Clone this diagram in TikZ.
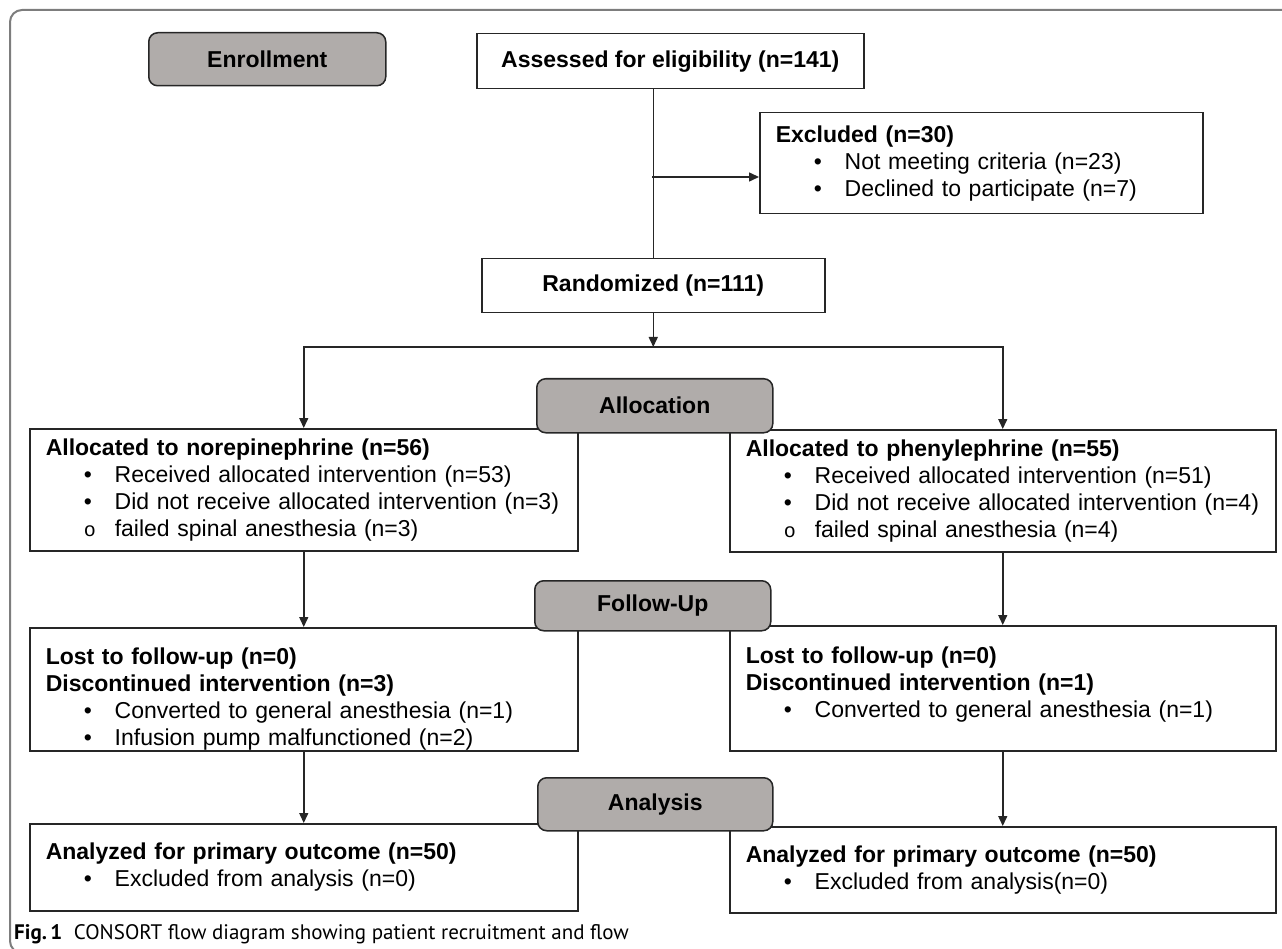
\documentclass[tikz,border=0pt]{standalone}
\usepackage{fontspec}
\setmainfont{Liberation Sans}
\newfontfamily\capfont{PT Sans}
\newfontfamily\ringfont{Liberation Mono}
\usepackage{xcolor}
\usepackage{tikz}
\usetikzlibrary{arrows.meta, positioning, calc}

\definecolor{hdrgray}{RGB}{176,172,170}
\definecolor{framegray}{RGB}{125,125,125}

\newcommand{\dotitem}[1]{\hspace*{38pt}\makebox[31pt][l]{\textbullet}#1}
\newcommand{\ringitem}[1]{\hspace*{38pt}\makebox[31pt][l]{\ringfont\fontsize{20}{27}\selectfont o}#1}

\begin{document}
\begin{tikzpicture}[
    x=1pt, y=-1pt,
    box/.style={rectangle, draw=black!85, line width=1.5pt, anchor=north west, inner xsep=16pt, inner ysep=0pt, align=left, font=\fontsize{23}{27}\selectfont},
    single/.style={box, align=center, font=\fontsize{23}{27}\selectfont\bfseries},
    header/.style={rectangle, rounded corners=9pt, draw=black!85, line width=1.5pt, fill=hdrgray, anchor=north west, inner sep=0pt, font=\fontsize{23}{27}\selectfont\bfseries},
    arrow/.style={-{Triangle[length=10pt, width=9pt]}, line width=1.5pt, black!85},
    link/.style={line width=1.5pt, black!85, line cap=rect}
]
\useasboundingbox (0,0) rectangle (1282,949);
\clip (0,0) rectangle (1282,949);

% Outer frame
\draw[framegray, line width=2pt, rounded corners=12pt] (10,10) rectangle (1310,953);

% Enrollment
\node[header, minimum width=237pt, minimum height=53pt] (enroll) at (148,32) {Enrollment};

\node[single, minimum width=387pt, minimum height=55pt] (assess) at (476,33) {Assessed for eligibility (n=141)};

\node[box, text width=411pt, minimum height=101pt] (excl) at (759,112) {\textbf{Excluded (n=30)}\\
\dotitem{Not meeting criteria (n=23)}\\
\dotitem{Declined to participate (n=7)}};

\node[single, minimum width=343pt, minimum height=54pt] (rand) at (481,258) {Randomized (n=111)};

\coordinate (exclfork) at (652,177);
\draw[link] (rand.north |- assess.south) -- (rand.north);
\draw[arrow] (exclfork) -- (exclfork -| excl.west);

% Allocation
\node[box, text width=516pt, minimum height=122pt] (allocL) at (29,428) {\textbf{Allocated to norepinephrine (n=56)}\\
\dotitem{Received allocated intervention (n=53)}\\
\dotitem{Did not receive allocated intervention (n=3)}\\
\ringitem{failed spinal anesthesia (n=3)}};

\node[box, text width=514pt, minimum height=122pt] (allocR) at (729,429) {\textbf{Allocated to phenylephrine (n=55)}\\
\dotitem{Received allocated intervention (n=51)}\\
\dotitem{Did not receive allocated intervention (n=4)}\\
\ringitem{failed spinal anesthesia (n=4)}};

\coordinate (split) at (652,347);
\draw[arrow] (rand.south) -- (rand.south |- split);
\draw[link] (allocL.north |- split) -- (allocR.north |- split);
\draw[arrow] (allocL.north |- split) -- (allocL.north);
\draw[arrow] (allocR.north |- split) -- (allocR.north);

\node[header, minimum width=236pt, minimum height=54pt] (allochead) at (536,378) {Allocation};

% Follow-up (text sits at the top of these two boxes)
\node[box, text width=516pt, minimum height=123pt] (fuL) at (29,627) {\rule{0pt}{36pt}\textbf{Lost to follow-up (n=0)}\\
\textbf{Discontinued intervention (n=3)}\\
\dotitem{Converted to general anesthesia (n=1)}\\
\dotitem{Infusion pump malfunctioned (n=2)}};

\node[box, text width=514pt, minimum height=125pt] (fuR) at (729,625) {\textbf{Lost to follow-up (n=0)}\\
\textbf{Discontinued intervention (n=1)}\\
\dotitem{Converted to general anesthesia (n=1)}\rule[-13pt]{0pt}{13pt}};

\draw[arrow] (allocL.south) -- (fuL.north);
\draw[arrow] (allocR.south) -- (fuR.north);

\node[header, minimum width=236pt, minimum height=50pt] (fuhead) at (534,580) {Follow-Up};

% Analysis
\node[box, text width=516pt, minimum height=87pt] (anL) at (29,823) {\textbf{Analyzed for primary outcome (n=50)}\\
\dotitem{Excluded from analysis (n=0)}};

\node[box, text width=514pt, minimum height=86pt] (anR) at (729,826) {\textbf{Analyzed for primary outcome (n=50)}\\
\dotitem{Excluded from analysis(n=0)}};

\draw[arrow] (fuL.south) -- (anL.north);
\draw[arrow] (fuR.south) -- (anR.north);

\node[header, minimum width=235pt, minimum height=53pt] (anhead) at (537,777) {Analysis};

% Caption
\node[anchor=base west, inner sep=0pt, font=\capfont\fontsize{21}{23}\selectfont] (caption) at (14,939) {\textbf{Fig.\,1}\hspace{0.55em}CONSORT flow diagram showing patient recruitment and flow};

\end{tikzpicture}
\end{document}
